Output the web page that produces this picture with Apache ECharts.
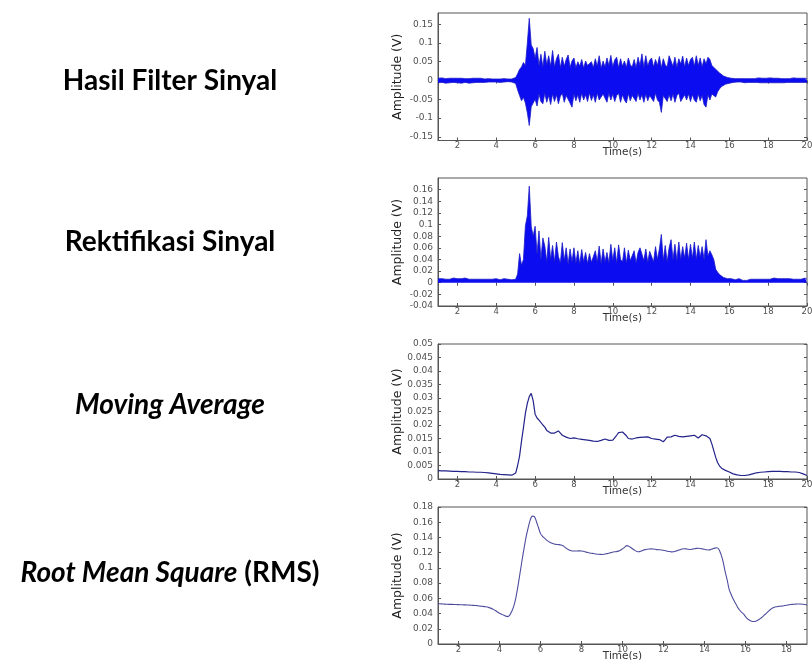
<!DOCTYPE html>
<html>
<head>
<meta charset="utf-8">
<script src="https://cdn.jsdelivr.net/npm/echarts@6/dist/echarts.min.js"></script>
<style>
  html, body { margin: 0; padding: 0; background: #fff; }
  #chart { width: 812px; height: 660px; }
</style>
</head>
<body>
<div id="chart"></div>
<script>
// Sampling of the EMG processing stages: start time and step (s)
const sampleStart = 1.0;
const sampleStep = 0.1;

// Filtered signal: positive and negative excursion per 0.1 s window (V)
const filterPos = [
  0.006,0.005,0.007,0.006,0.005,0.007,0.006,0.005,0.006,0.007,
  0.006,0.005,0.006,0.007,0.005,0.006,0.005,0.007,0.006,0.005,
  0.006,0.005,0.006,0.005,0.004,0.006,0.005,0.005,0.004,0.005,
  0.004,0.005,0.004,0.004,0.005,0.004,0.004,0.003,0.004,0.004,
  0.008,0.018,0.030,0.036,0.048,0.040,0.100,0.166,0.095,0.085,
  0.060,0.088,0.040,0.070,0.036,0.078,0.042,0.066,0.038,0.080,
  0.036,0.058,0.070,0.034,0.062,0.038,0.056,0.068,0.035,0.052,
  0.060,0.034,0.050,0.038,0.056,0.033,0.052,0.040,0.036,0.050,
  0.034,0.058,0.038,0.066,0.033,0.052,0.036,0.060,0.040,0.067,
  0.036,0.055,0.062,0.034,0.058,0.038,0.052,0.035,0.060,0.042,
  0.036,0.056,0.034,0.062,0.040,0.071,0.035,0.066,0.038,0.054,
  0.060,0.036,0.056,0.040,0.064,0.034,0.058,0.042,0.036,0.066,
  0.067,0.038,0.062,0.035,0.058,0.044,0.065,0.036,0.060,0.040,
  0.056,0.062,0.038,0.066,0.040,0.060,0.036,0.058,0.044,0.062,
  0.056,0.040,0.044,0.030,0.027,0.020,0.016,0.012,0.010,0.008,
  0.007,0.006,0.005,0.005,0.004,0.005,0.004,0.005,0.006,0.005,
  0.006,0.005,0.006,0.005,0.006,0.007,0.005,0.006,0.005,0.006,
  0.006,0.007,0.005,0.006,0.005,0.006,0.007,0.005,0.006,0.005,
  0.006,0.005,0.006,0.007,0.005,0.006,0.005,0.006,0.005,0.006,
  0.005
];
const filterNeg = [
  -0.006,-0.007,-0.005,-0.006,-0.007,-0.005,-0.006,-0.007,-0.005,-0.006,
  -0.006,-0.005,-0.007,-0.006,-0.005,-0.006,-0.007,-0.005,-0.006,-0.005,
  -0.005,-0.006,-0.005,-0.004,-0.005,-0.006,-0.004,-0.005,-0.004,-0.005,
  -0.004,-0.004,-0.005,-0.003,-0.004,-0.004,-0.003,-0.004,-0.004,-0.005,
  -0.008,-0.025,-0.040,-0.054,-0.045,-0.060,-0.086,-0.120,-0.070,-0.060,
  -0.050,-0.068,-0.036,-0.056,-0.062,-0.034,-0.058,-0.040,-0.064,-0.036,
  -0.056,-0.038,-0.062,-0.042,-0.034,-0.058,-0.040,-0.036,-0.060,-0.071,
  -0.036,-0.054,-0.038,-0.058,-0.034,-0.052,-0.038,-0.056,-0.033,-0.053,
  -0.038,-0.058,-0.034,-0.052,-0.056,-0.036,-0.040,-0.058,-0.034,-0.052,
  -0.036,-0.056,-0.040,-0.034,-0.058,-0.038,-0.052,-0.060,-0.035,-0.054,
  -0.040,-0.036,-0.056,-0.034,-0.052,-0.038,-0.058,-0.036,-0.054,-0.040,
  -0.038,-0.056,-0.034,-0.052,-0.058,-0.085,-0.040,-0.036,-0.056,-0.038,
  -0.054,-0.036,-0.058,-0.040,-0.034,-0.056,-0.060,-0.038,-0.052,-0.036,
  -0.056,-0.038,-0.052,-0.058,-0.036,-0.054,-0.040,-0.064,-0.071,-0.038,
  -0.052,-0.036,-0.040,-0.044,-0.030,-0.022,-0.016,-0.012,-0.010,-0.008,
  -0.007,-0.006,-0.005,-0.005,-0.004,-0.005,-0.004,-0.005,-0.006,-0.005,
  -0.005,-0.006,-0.005,-0.006,-0.005,-0.005,-0.006,-0.005,-0.006,-0.005,
  -0.006,-0.005,-0.006,-0.005,-0.006,-0.005,-0.006,-0.005,-0.006,-0.005,
  -0.005,-0.006,-0.005,-0.006,-0.005,-0.006,-0.005,-0.006,-0.005,-0.006,
  -0.005
];

// Rectified signal: peak per 0.1 s window (V)
const rectHigh = [
  0.007,0.006,0.007,0.008,0.006,0.007,0.006,0.007,0.008,0.006,
  0.007,0.006,0.007,0.006,0.008,0.007,0.006,0.007,0.006,0.007,
  0.006,0.007,0.006,0.007,0.006,0.008,0.006,0.007,0.006,0.006,
  0.007,0.006,0.005,0.006,0.007,0.005,0.006,0.007,0.005,0.005,
  0.006,0.015,0.050,0.030,0.040,0.098,0.115,0.166,0.097,0.080,
  0.097,0.050,0.089,0.040,0.077,0.063,0.036,0.078,0.040,0.064,
  0.036,0.070,0.045,0.034,0.069,0.038,0.060,0.032,0.058,0.036,
  0.060,0.034,0.055,0.032,0.057,0.036,0.052,0.033,0.050,0.035,
  0.032,0.055,0.036,0.063,0.033,0.058,0.036,0.052,0.034,0.066,
  0.038,0.060,0.034,0.065,0.040,0.036,0.060,0.034,0.056,0.038,
  0.036,0.055,0.034,0.052,0.060,0.063,0.038,0.058,0.035,0.054,
  0.056,0.036,0.062,0.040,0.058,0.083,0.038,0.064,0.036,0.060,
  0.074,0.040,0.066,0.038,0.070,0.040,0.062,0.042,0.068,0.040,
  0.066,0.042,0.070,0.040,0.064,0.044,0.062,0.040,0.074,0.046,
  0.055,0.048,0.040,0.023,0.018,0.014,0.012,0.009,0.008,0.007,
  0.006,0.007,0.006,0.005,0.006,0.007,0.005,0.004,0.005,0.004,
  0.005,0.006,0.005,0.006,0.007,0.006,0.007,0.006,0.007,0.006,
  0.007,0.006,0.007,0.008,0.006,0.007,0.006,0.007,0.006,0.007,
  0.006,0.007,0.008,0.006,0.007,0.006,0.007,0.006,0.007,0.008,
  0.006
];

// Moving average envelope, one value per 0.1 s (V)
const movingAvg = [
  0.0031,0.0031,0.0030,0.0030,0.0030,0.0029,0.0029,0.0029,0.0028,0.0028,
  0.0028,0.0028,0.0027,0.0027,0.0027,0.0027,0.0026,0.0026,0.0026,0.0026,
  0.0025,0.0025,0.0025,0.0024,0.0024,0.0024,0.0023,0.0022,0.0021,0.0020,
  0.0019,0.0018,0.0017,0.0016,0.0016,0.0015,0.0015,0.0014,0.0014,0.0016,
  0.0022,0.0050,0.0085,0.0140,0.0190,0.0243,0.0280,0.0305,0.0317,0.0290,
  0.0240,0.0226,0.0218,0.0212,0.0200,0.0192,0.0180,0.0176,0.0170,0.0172,
  0.0170,0.0176,0.0178,0.0170,0.0162,0.0160,0.0155,0.0152,0.0150,0.0148,
  0.0152,0.0150,0.0149,0.0150,0.0147,0.0143,0.0145,0.0140,0.0143,0.0144,
  0.0140,0.0142,0.0139,0.0141,0.0143,0.0146,0.0148,0.0145,0.0143,0.0147,
  0.0144,0.0150,0.0162,0.0172,0.0170,0.0174,0.0168,0.0160,0.0150,0.0146,
  0.0148,0.0145,0.0152,0.0156,0.0154,0.0157,0.0155,0.0152,0.0156,0.0153,
  0.0150,0.0153,0.0148,0.0152,0.0146,0.0150,0.0138,0.0146,0.0155,0.0152,
  0.0156,0.0160,0.0162,0.0155,0.0158,0.0152,0.0156,0.0160,0.0158,0.0164,
  0.0160,0.0158,0.0162,0.0155,0.0152,0.0158,0.0164,0.0166,0.0160,0.0158,
  0.0150,0.0130,0.0105,0.0080,0.0060,0.0048,0.0040,0.0035,0.0032,0.0030,
  0.0026,0.0022,0.0019,0.0017,0.0015,0.0014,0.0013,0.0013,0.0013,0.0014,
  0.0015,0.0017,0.0019,0.0021,0.0023,0.0024,0.0025,0.0026,0.0026,0.0027,
  0.0027,0.0028,0.0028,0.0028,0.0028,0.0028,0.0028,0.0028,0.0027,0.0027,
  0.0027,0.0027,0.0026,0.0026,0.0026,0.0025,0.0024,0.0022,0.0019,0.0016,
  0.0013
];

// RMS envelope, one value per 0.1 s from 1 s to 19 s (V)
const rmsValues = [
  0.0530,0.0528,0.0526,0.0524,0.0522,0.0521,0.0520,0.0520,0.0519,0.0518,
  0.0517,0.0516,0.0515,0.0514,0.0513,0.0512,0.0510,0.0508,0.0506,0.0504,
  0.0500,0.0497,0.0494,0.0490,0.0486,0.0478,0.0468,0.0455,0.0440,0.0420,
  0.0405,0.0392,0.0378,0.0366,0.0360,0.0380,0.0430,0.0500,0.0610,0.0760,
  0.0930,0.1100,0.1260,0.1410,0.1530,0.1630,0.1680,0.1675,0.1610,0.1530,
  0.1450,0.1415,0.1390,0.1365,0.1345,0.1330,0.1320,0.1310,0.1308,0.1306,
  0.1300,0.1290,0.1270,0.1250,0.1235,0.1225,0.1222,0.1222,0.1222,0.1224,
  0.1222,0.1218,0.1210,0.1202,0.1196,0.1192,0.1188,0.1183,0.1180,0.1178,
  0.1176,0.1180,0.1186,0.1190,0.1198,0.1206,0.1212,0.1214,0.1220,0.1232,
  0.1250,0.1270,0.1292,0.1285,0.1268,0.1248,0.1230,0.1215,0.1212,0.1220,
  0.1232,0.1240,0.1245,0.1248,0.1250,0.1248,0.1244,0.1240,0.1238,0.1236,
  0.1232,0.1225,0.1218,0.1215,0.1210,0.1212,0.1220,0.1230,0.1238,0.1248,
  0.1252,0.1250,0.1244,0.1242,0.1246,0.1252,0.1256,0.1258,0.1255,0.1250,
  0.1244,0.1238,0.1236,0.1240,0.1250,0.1260,0.1265,0.1245,0.1180,0.1090,
  0.0960,0.0850,0.0720,0.0650,0.0590,0.0540,0.0490,0.0450,0.0420,0.0395,
  0.0360,0.0330,0.0312,0.0300,0.0295,0.0300,0.0312,0.0330,0.0350,0.0375,
  0.0400,0.0425,0.0450,0.0470,0.0483,0.0490,0.0494,0.0497,0.0500,0.0505,
  0.0510,0.0514,0.0518,0.0521,0.0523,0.0525,0.0526,0.0525,0.0522,0.0518,
  0.0514
];

// Tick positions
const timeTicks = [2, 4, 6, 8, 10, 12, 14, 16, 18, 20];
const timeTicksRms = [2, 4, 6, 8, 10, 12, 14, 16, 18];
const filterTicks = [-0.15, -0.1, -0.05, 0, 0.05, 0.1, 0.15];
const rectTicks = [-0.04, -0.02, 0, 0.02, 0.04, 0.06, 0.08, 0.1, 0.12, 0.14, 0.16];
const maTicks = [0, 0.005, 0.01, 0.015, 0.02, 0.025, 0.03, 0.035, 0.04, 0.045, 0.05];
const rmsTicks = [0, 0.02, 0.04, 0.06, 0.08, 0.1, 0.12, 0.14, 0.16, 0.18];

// Row labels on the left
const stageLabels = [
  { text: 'Hasil Filter Sinyal', y: 81 },
  { text: 'Rektifikasi Sinyal', y: 242 },
  { text: '{i|Moving Average}', y: 405 },
  { text: '{i|Root Mean Square} {n|(RMS)}', y: 573 }
];

function envSamples(vals) {
  return vals.map((v, i) => [sampleStart + i * sampleStep, v]);
}

const panels = [
  { top: 13, height: 127.5, xMax: 20, xTicks: timeTicks, yMin: -0.16, yMax: 0.18, yTicks: filterTicks },
  { top: 178, height: 128, xMax: 20, xTicks: timeTicks, yMin: -0.04, yMax: 0.18, yTicks: rectTicks },
  { top: 344, height: 135, xMax: 20, xTicks: timeTicks, yMin: 0, yMax: 0.05, yTicks: maTicks },
  { top: 507, height: 137, xMax: 19, xTicks: timeTicksRms, yMin: 0, yMax: 0.18, yTicks: rmsTicks }
];

const axisFont = 'DejaVu Sans';
const tickFont = { fontFamily: axisFont, fontSize: 8.5, color: '#505050' };
const frameColor = '#555';

const grids = [], xAxes = [], yAxes = [];
panels.forEach((p, k) => {
  grids.push({
    left: 438, width: 369, top: p.top, height: p.height,
    show: true, borderColor: frameColor, borderWidth: 1, backgroundColor: '#fff',
    containLabel: false, outerBoundsMode: 'none'
  });
  // bottom time axis
  xAxes.push({
    type: 'value', gridIndex: k, min: 1, max: p.xMax, position: 'bottom',
    name: 'Time(s)', nameLocation: 'middle', nameGap: 6.5, nameMoveOverlap: false,
    nameTextStyle: { fontFamily: axisFont, fontSize: 10.5, color: '#333' },
    axisLine: { show: true, onZero: false, lineStyle: { color: frameColor, width: 1 } },
    axisTick: { show: true, inside: true, length: 3, customValues: p.xTicks, lineStyle: { color: frameColor } },
    axisLabel: Object.assign({ customValues: p.xTicks, margin: 1 }, tickFont),
    splitLine: { show: false }
  });
  // mirrored ticks on top
  xAxes.push({
    type: 'value', gridIndex: k, min: 1, max: p.xMax, position: 'top',
    axisLine: { show: false },
    axisTick: { show: true, inside: true, length: 3, customValues: p.xTicks, lineStyle: { color: frameColor } },
    axisLabel: { show: false },
    splitLine: { show: false }
  });
  yAxes.push({
    type: 'value', gridIndex: k, min: p.yMin, max: p.yMax, position: 'left',
    name: 'Amplitude (V)', nameLocation: 'middle', nameGap: 34, nameRotate: 90, nameMoveOverlap: false,
    nameTextStyle: { fontFamily: axisFont, fontSize: 12.5, color: '#222' },
    axisLine: { show: true, onZero: false, lineStyle: { color: frameColor, width: 1 } },
    axisTick: { show: true, inside: true, length: 3, customValues: p.yTicks, lineStyle: { color: frameColor } },
    axisLabel: Object.assign({ customValues: p.yTicks, margin: 5 }, tickFont, { fontSize: 9 }),
    splitLine: { show: false }
  });
  yAxes.push({
    type: 'value', gridIndex: k, min: p.yMin, max: p.yMax, position: 'right',
    axisLine: { show: false },
    axisTick: { show: true, inside: true, length: 3, customValues: p.yTicks, lineStyle: { color: frameColor } },
    axisLabel: { show: false },
    splitLine: { show: false }
  });
});

const lineBase = { type: 'line', showSymbol: false, symbol: 'none', animation: false, silent: true, sampling: null };
const signalBlue = '#0c0cf0';
const signalEdge = '#1a1ac8';

const series = [
  // filtered signal: filled upper and lower excursions; the two fills overlap slightly at zero
  Object.assign({}, lineBase, {
    xAxisIndex: 0, yAxisIndex: 0, data: envSamples(filterPos),
    lineStyle: { color: signalEdge, width: 0.8 },
    areaStyle: { color: signalBlue, opacity: 1, origin: -0.002 }
  }),
  Object.assign({}, lineBase, {
    xAxisIndex: 0, yAxisIndex: 0, data: envSamples(filterNeg),
    lineStyle: { color: signalEdge, width: 0.8 },
    areaStyle: { color: signalBlue, opacity: 1, origin: 0.002 }
  }),
  // rectified signal
  Object.assign({}, lineBase, {
    xAxisIndex: 2, yAxisIndex: 2, data: envSamples(rectHigh),
    lineStyle: { color: signalEdge, width: 0.8 },
    areaStyle: { color: signalBlue, opacity: 1, origin: 0 }
  }),
  Object.assign({}, lineBase, {
    xAxisIndex: 4, yAxisIndex: 4, data: envSamples(movingAvg),
    lineStyle: { color: '#22228a', width: 1.2 }
  }),
  Object.assign({}, lineBase, {
    xAxisIndex: 6, yAxisIndex: 6, data: envSamples(rmsValues), smooth: 0.3,
    lineStyle: { color: '#4d4d9e', width: 1.1 }
  })
];

const labelFont = 'Lato';
const labelSize = 28;
const graphics = stageLabels.map(l => ({
  type: 'text', x: 170, y: l.y, silent: true,
  style: {
    text: l.text, align: 'center', verticalAlign: 'middle',
    fontFamily: labelFont, fontSize: labelSize, fontWeight: 'bold', fill: '#000',
    rich: {
      i: { fontFamily: labelFont, fontSize: labelSize, fontWeight: 'bold', fontStyle: 'italic', fill: '#000' },
      n: { fontFamily: labelFont, fontSize: labelSize, fontWeight: 'bold', fill: '#000' }
    }
  }
}));

const chart = echarts.init(document.getElementById('chart'), null, { renderer: 'canvas' });
chart.setOption({
  animation: false,
  backgroundColor: '#fff',
  grid: grids,
  xAxis: xAxes,
  yAxis: yAxes,
  series: series,
  graphic: graphics
});
</script>
</body>
</html>
